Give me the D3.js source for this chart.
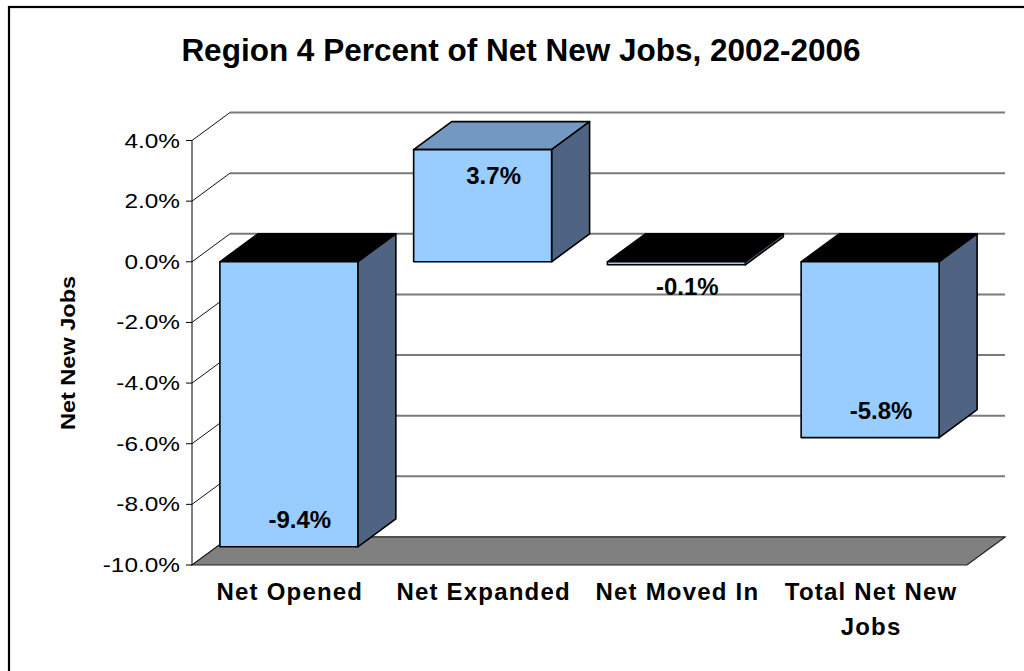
<!DOCTYPE html>
<html>
<head>
<meta charset="utf-8">
<script src="https://cdn.jsdelivr.net/npm/d3@7"></script>
<style>
  html, body { margin: 0; padding: 0; background: #fff; }
  svg { display: block; font-family: Arial, "Liberation Sans", sans-serif; }
</style>
</head>
<body>
<svg id="chart" width="1024" height="671"></svg>
<script>
// Region 4 share of net new jobs by component, 2002-2006 (percent)
const categories = [["Net Opened"], ["Net Expanded"], ["Net Moved In"], ["Total Net New", "Jobs"]];
const values = [-9.4, 3.7, -0.1, -5.8];
const valueLabels = ["-9.4%", "3.7%", "-0.1%", "-5.8%"];
const tickValues = [4, 2, 0, -2, -4, -6, -8, -10];
const tickLabels = ["4.0%", "2.0%", "0.0%", "-2.0%", "-4.0%", "-6.0%", "-8.0%", "-10.0%"];

const svg = d3.select("#chart");

// front plane of the 3-D plot and the depth offset of its walls
const left = 192, right = 967;
const depthX = 38, depthY = -28;

const x = d3.scaleBand()
  .domain(d3.range(categories.length))
  .range([left, right])
  .paddingInner(0.288)
  .paddingOuter(0.144);

const y = d3.scaleLinear().domain([-10, 4]).range([565, 140.5]);

// outer chart frame
svg.append("rect")
  .attr("x", 9).attr("y", 7)
  .attr("width", 1030).attr("height", 700)
  .attr("fill", "none").attr("stroke", "#000").attr("stroke-width", 2.2);

// title
svg.append("text")
  .attr("x", 521).attr("y", 61)
  .attr("text-anchor", "middle")
  .attr("font-size", 31.5).attr("font-weight", "bold")
  .text("Region 4 Percent of Net New Jobs, 2002-2006");

// walls: diagonal side gridlines and horizontal back gridlines
const grid = svg.append("g");
tickValues.forEach(t => {
  grid.append("line")
    .attr("x1", left).attr("y1", y(t))
    .attr("x2", left + depthX).attr("y2", y(t) + depthY)
    .attr("stroke", "#111").attr("stroke-width", 1);
  grid.append("line")
    .attr("x1", left + depthX).attr("y1", y(t) + depthY)
    .attr("x2", right + depthX).attr("y2", y(t) + depthY)
    .attr("stroke", "#7a7a7a").attr("stroke-width", 2);
});

// floor
svg.append("polygon")
  .attr("points", [
    [left, y(-10)], [left + depthX, y(-10) + depthY],
    [right + depthX, y(-10) + depthY], [right, y(-10)]
  ].map(p => p.join(",")).join(" "))
  .attr("fill", "#808080").attr("stroke", "#222").attr("stroke-width", 1.2);

// value axis line and ticks
const axis = svg.append("g");
axis.append("line")
  .attr("x1", left).attr("x2", left)
  .attr("y1", y(4)).attr("y2", y(-10))
  .attr("stroke", "#000").attr("stroke-width", 1);
tickValues.forEach((t, i) => {
  axis.append("line")
    .attr("x1", left - 6).attr("x2", left)
    .attr("y1", y(t)).attr("y2", y(t))
    .attr("stroke", "#000").attr("stroke-width", 1);
  axis.append("text")
    .attr("transform", `translate(180,${y(t) + 7}) scale(1.22,1)`)
    .attr("text-anchor", "end")
    .attr("font-size", 20)
    .text(tickLabels[i]);
});

// value axis title
svg.append("text")
  .attr("transform", "translate(75,353) rotate(-90) scale(1.12,1)")
  .attr("text-anchor", "middle")
  .attr("font-size", 21).attr("font-weight", "bold")
  .text("Net New Jobs");

// 3-D columns
const bars = svg.append("g");
values.forEach((v, i) => {
  const x0 = x(i), x1 = x(i) + x.bandwidth();
  const yt = y(Math.max(v, 0)), yb = y(Math.min(v, 0));
  const g = bars.append("g")
    .attr("stroke", "#000").attr("stroke-width", 1.6).attr("stroke-linejoin", "round");
  g.append("polygon")
    .attr("points", [[x0, yt], [x0 + depthX, yt + depthY], [x1 + depthX, yt + depthY], [x1, yt]]
      .map(p => p.join(",")).join(" "))
    .attr("fill", v >= 0 ? "#7399c2" : "#000");
  g.append("polygon")
    .attr("points", [[x1, yt], [x1 + depthX, yt + depthY], [x1 + depthX, yb + depthY], [x1, yb]]
      .map(p => p.join(",")).join(" "))
    .attr("fill", "#4f6482");
  g.append("rect")
    .attr("x", x0).attr("y", yt)
    .attr("width", x1 - x0).attr("height", yb - yt)
    .attr("fill", "#99ccff");
});

// data labels
values.forEach((v, i) => {
  const cx = x(i) + x.bandwidth() / 2 + 11;
  const yt = y(Math.max(v, 0)), yb = y(Math.min(v, 0));
  let by;
  if (yb - yt < 40) by = yb + 30;
  else if (v >= 0) by = yt + 34;
  else by = yb - 19;
  svg.append("text")
    .attr("x", cx).attr("y", by)
    .attr("text-anchor", "middle")
    .attr("font-size", 24).attr("font-weight", "bold")
    .text(valueLabels[i]);
});

// category labels
categories.forEach((lines, i) => {
  const t = svg.append("text")
    .attr("text-anchor", "middle")
    .attr("font-size", 24).attr("font-weight", "bold")
    .attr("letter-spacing", 1.2);
  lines.forEach((ln, k) => {
    t.append("tspan")
      .attr("x", x(i) + x.bandwidth() / 2 + 1)
      .attr("y", 600 + k * 35)
      .text(ln);
  });
});
</script>
</body>
</html>
